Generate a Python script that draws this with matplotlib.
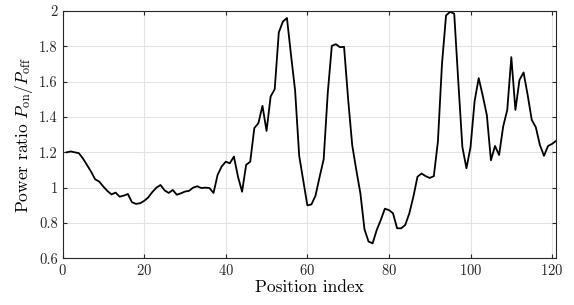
import numpy as np
import matplotlib
matplotlib.use('Agg')
import matplotlib.pyplot as plt
from matplotlib.ticker import FuncFormatter

plt.rcParams['font.family'] = 'cmr10'
plt.rcParams['mathtext.fontset'] = 'cm'
plt.rcParams['axes.formatter.use_mathtext'] = True

# position index 1..121
position = np.arange(1, 122)

# power ratio
ratio = [
    1.200, 1.205, 1.200, 1.195, 1.165, 1.128, 1.090, 1.047, 1.034, 1.006,
    0.981, 0.962, 0.972, 0.949, 0.955, 0.964, 0.918, 0.908, 0.912, 0.925,
    0.945, 0.975, 1.000, 1.015, 0.985, 0.970, 0.987, 0.960, 0.968, 0.978,
    0.982, 1.000, 1.008, 0.998, 1.000, 0.998, 0.970, 1.072, 1.120, 1.147,
    1.138, 1.176, 1.062, 0.977, 1.129, 1.147, 1.337, 1.365, 1.463, 1.321,
    1.516, 1.557, 1.878, 1.940, 1.960, 1.750, 1.550, 1.180, 1.040, 0.900,
    0.905, 0.955, 1.060, 1.160, 1.535, 1.803, 1.812, 1.795, 1.797, 1.500,
    1.240, 1.100, 0.968, 0.765, 0.695, 0.685, 0.760, 0.817, 0.881, 0.873,
    0.855, 0.770, 0.770, 0.789, 0.855, 0.950, 1.062, 1.080, 1.065, 1.055,
    1.065, 1.260, 1.700, 1.975, 1.995, 1.985, 1.600, 1.230, 1.110, 1.230,
    1.490, 1.620, 1.520, 1.410, 1.155, 1.236, 1.185, 1.346, 1.440, 1.739,
    1.440, 1.610, 1.652, 1.525, 1.384, 1.342, 1.242, 1.180, 1.236, 1.248,
    1.265,
]

xticks = [0, 20, 40, 60, 80, 100, 120]
yticks = [0.6, 0.8, 1.0, 1.2, 1.4, 1.6, 1.8, 2.0]

fig = plt.figure(figsize=(5.74, 3.05), dpi=100)
ax = fig.add_axes([0.109, 0.153, 0.86, 0.811])

ax.plot(position, ratio, color='k', linewidth=1.3)

ax.set_xlim(0, 121)
ax.set_ylim(0.6, 2)
ax.set_xticks(xticks)
ax.set_yticks(yticks)
ax.yaxis.set_major_formatter(FuncFormatter(lambda v, p: '%g' % v))
ax.grid(True, color='#e3e3e3', linewidth=0.8)
ax.set_axisbelow(True)

for s in ax.spines.values():
    s.set_color('#262626')
    s.set_linewidth(0.8)
ax.tick_params(direction='in', top=True, right=True, length=3,
               color='#262626', labelsize=10.5, labelcolor='#262626')

ax.set_xlabel('Position index', fontsize=12.5, labelpad=1)
ax.set_ylabel(r'Power ratio $P_{\mathrm{on}}/P_{\mathrm{off}}$', fontsize=12.5, labelpad=3)

plt.savefig('out.png', dpi=100)
